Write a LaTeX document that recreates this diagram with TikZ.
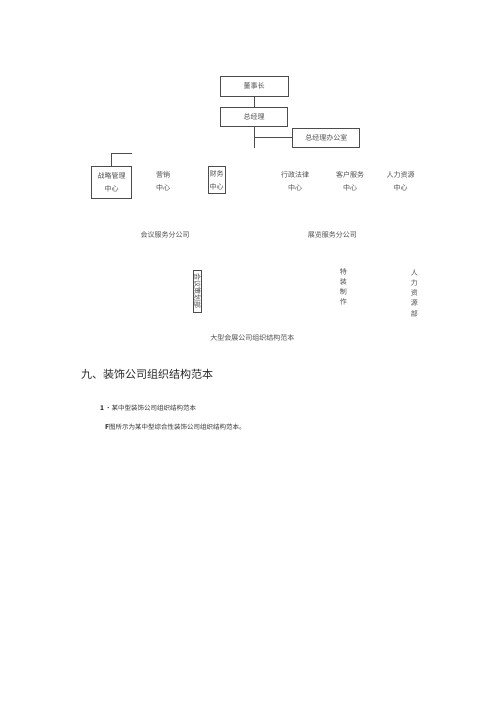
\documentclass[tikz,border=0pt]{standalone}
\usepackage{fontspec}
\newfontfamily\cjk{Noto Sans CJK SC}
\usepackage{tikz}

\begin{document}
\begin{tikzpicture}[x=1pt,y=1pt,yscale=-1,xscale=1,
    box/.style={draw=black!70,line width=0.8pt,inner sep=0pt,font=\fontsize{7}{13}\cjk,text=black!70,align=center},
    lbl/.style={inner sep=0.75pt,font=\fontsize{7}{13}\cjk,text=black!70,align=center},
    vlbl/.style={inner sep=0.75pt,font=\fontsize{7}{10.2}\cjk,text=black!70,align=center},
    link/.style={draw=black!70,line width=0.8pt}]
        \useasboundingbox (0,0) rectangle (500,707);

        \draw (254,86) node [box,minimum width=68,minimum height=20] (chair) {董事长};
        \draw (254,116.5) node [box,minimum width=67,minimum height=19] (gm) {总经理};
        \draw (326.3,137.8) node [box,minimum width=67,minimum height=19] (office) {总经理办公室};
        \coordinate (gmEnd) at (254,147.5);

        \draw (111.7,182.2) node [box,minimum width=40,minimum height=32] (strategy) {战略管理\\中心};
        \coordinate (strategyTop) at (131.7,153.3);
        \draw (163,181.7) node [lbl] (sales) {营销\\中心};
        \draw (216.7,180) node [box,minimum width=16.7,minimum height=27.3] (finance) {财务\\中心};
        \draw (295,181.7) node [lbl] (legal) {行政法律\\中心};
        \draw (350,181.7) node [lbl] (service) {客户服务\\中心};
        \draw (400.7,181.7) node [lbl] (hr) {人力资源\\中心};

        \draw (165,235) node [lbl] (meeting) {会议服务分公司};
        \draw (332.3,235) node [lbl] (expo) {展览服务分公司};

        \draw (197.5,291.3) node [box,rotate=-90,minimum width=42.7,minimum height=8.4,line width=0.6pt] (plan) {会议策划部};
        \draw (343.3,286.7) node [vlbl] (build) {特\\装\\制\\作};
        \draw (414.3,293) node [vlbl] (hrdept) {人\\力\\资\\源\\部};

        \draw (252.3,338.3) node [lbl] (caption) {大型会展公司组织结构范本};

        \draw (81,374) node [anchor=west][inner sep=0pt] [font=\fontsize{11}{13}\cjk,text=black!85] (title) {九、装饰公司组织结构范本};
        \draw (100,408.3) node [anchor=west][inner sep=0pt] [font=\fontsize{6.5}{8}\cjk,text=black!80] (item) {\textbf{1}\,・某中型装饰公司组织结构范本};
        \draw (105,426.7) node [anchor=west][inner sep=0pt] [font=\fontsize{6.5}{8}\cjk,text=black!80] (note) {\textbf{F}图所示为某中型综合性装饰公司组织结构范本。};

        % connectors
        \draw [link] (chair) -- (gm);
        \draw [link] (gm) -- (gmEnd);
        \draw [link] (gmEnd |- office.west) -- (office.west);
        \draw [link] (strategy.north) |- (strategyTop);
\end{tikzpicture}
\end{document}
